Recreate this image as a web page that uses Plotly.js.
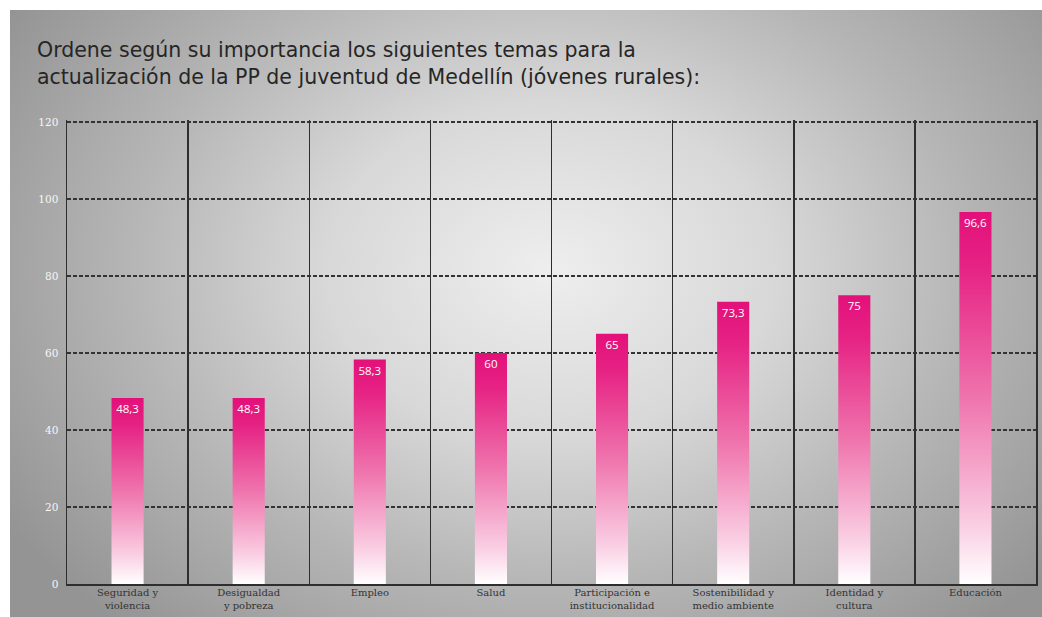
<!DOCTYPE html>
<html>
<head>
<meta charset="utf-8">
<script src="https://cdn.plot.ly/plotly-3.0.1.min.js"></script>
<style>
  html, body { margin:0; padding:0; background:#ffffff; }
  #wrap { position:relative; width:1042px; height:617px; overflow:hidden; background:#fff; }
  #bg { position:absolute; left:10px; top:10px; width:1032px; height:607px;
        background: radial-gradient(ellipse 640px 480px at 540px 260px, #eeeeee 0%, #d8d8d8 35%, #b6b6b6 65%, #949494 100%); }
  #chart { position:absolute; left:0; top:0; width:1042px; height:617px; }
</style>
</head>
<body>
<div id="wrap">
  <div id="bg"></div>
  <div id="chart"></div>
</div>
<script>
const categories = [
  "Seguridad y<br>violencia",
  "Desigualdad<br>y pobreza",
  "Empleo",
  "Salud",
  "Participación e<br>institucionalidad",
  "Sostenibilidad y<br>medio ambiente",
  "Identidad y<br>cultura",
  "Educación"
];
const values = [48.3, 48.3, 58.3, 60, 65, 73.3, 75, 96.6];
const valueLabels = ["48,3", "48,3", "58,3", "60", "65", "73,3", "75", "96,6"];
const yTicks = [0, 20, 40, 60, 80, 100, 120];

const trace = {
  type: "bar",
  x: categories,
  y: values,
  text: valueLabels,
  textposition: "inside",
  insidetextanchor: "end",
  textangle: 0,
  textfont: { family: "'Open Sans', sans-serif", size: 11.5, color: "#ffffff" },
  marker: { color: "#e3197f", line: { width: 0 } },
  width: 0.265,
  hoverinfo: "skip",
  cliponaxis: false
};

const layout = {
  width: 1042,
  height: 617,
  paper_bgcolor: "rgba(0,0,0,0)",
  plot_bgcolor: "rgba(0,0,0,0)",
  margin: { l: 67, r: 6, t: 120, b: 33 },
  showlegend: false,
  title: {
    text: "Ordene según su importancia los siguientes temas para la<br>actualización de la PP de juventud de Medellín (jóvenes rurales):",
    x: 37 / 1042, xref: "container", xanchor: "left",
    y: 1 - 57 / 617, yref: "container", yanchor: "top",
    font: { family: "'DejaVu Sans', sans-serif", size: 20.5, color: "#262626" }
  },
  xaxis: {
    type: "category",
    tickson: "boundaries",
    showgrid: true,
    gridcolor: "#2e2e2e",
    gridwidth: 1.5,
    showline: true,
    linecolor: "#2e2e2e",
    linewidth: 1.5,
    ticks: "",
    ticklabelstandoff: -2,
    tickfont: { family: "'DejaVu Serif', serif", size: 10, color: "#333333" },
    range: [-0.5, 7.5],
    fixedrange: true
  },
  yaxis: {
    range: [0, 120.5],
    tickvals: yTicks,
    ticktext: yTicks.map(String),
    showgrid: true,
    gridcolor: "#333333",
    gridwidth: 1.5,
    griddash: "4px,2px",
    zeroline: false,
    showline: true,
    mirror: true,
    linecolor: "#2e2e2e",
    linewidth: 1.5,
    ticks: "",
    ticklabelstandoff: 5,
    tickfont: { family: "'DejaVu Serif', serif", size: 10.5, color: "#f6f6f6" },
    fixedrange: true
  },
  bargap: 0.7
};

function applyGradient(gd) {
  const svg = gd.querySelector(".main-svg");
  if (!svg) return;
  let defs = svg.querySelector("defs");
  if (!defs) {
    defs = document.createElementNS("http://www.w3.org/2000/svg", "defs");
    svg.insertBefore(defs, svg.firstChild);
  }
  if (!defs.querySelector("#barGrad")) {
    const lg = document.createElementNS("http://www.w3.org/2000/svg", "linearGradient");
    lg.setAttribute("id", "barGrad");
    lg.setAttribute("x1", "0"); lg.setAttribute("y1", "0");
    lg.setAttribute("x2", "0"); lg.setAttribute("y2", "1");
    const stops = [["0", "#e3107a"], ["0.15", "#e62384"], ["0.5", "#ef74ad"], ["0.85", "#fad0e4"], ["1", "#ffffff"]];
    stops.forEach(([o, c]) => {
      const s = document.createElementNS("http://www.w3.org/2000/svg", "stop");
      s.setAttribute("offset", o);
      s.setAttribute("stop-color", c);
      lg.appendChild(s);
    });
    defs.appendChild(lg);
  }
  gd.querySelectorAll(".barlayer .point path").forEach(p => {
    p.style.fill = "url(#barGrad)";
    p.style.fillOpacity = "1";
  });
}

const gd = document.getElementById("chart");
Plotly.newPlot(gd, [trace], layout, { displayModeBar: false, staticPlot: true }).then(() => {
  applyGradient(gd);
  gd.on && gd.on("plotly_afterplot", () => applyGradient(gd));
});
</script>
</body>
</html>
